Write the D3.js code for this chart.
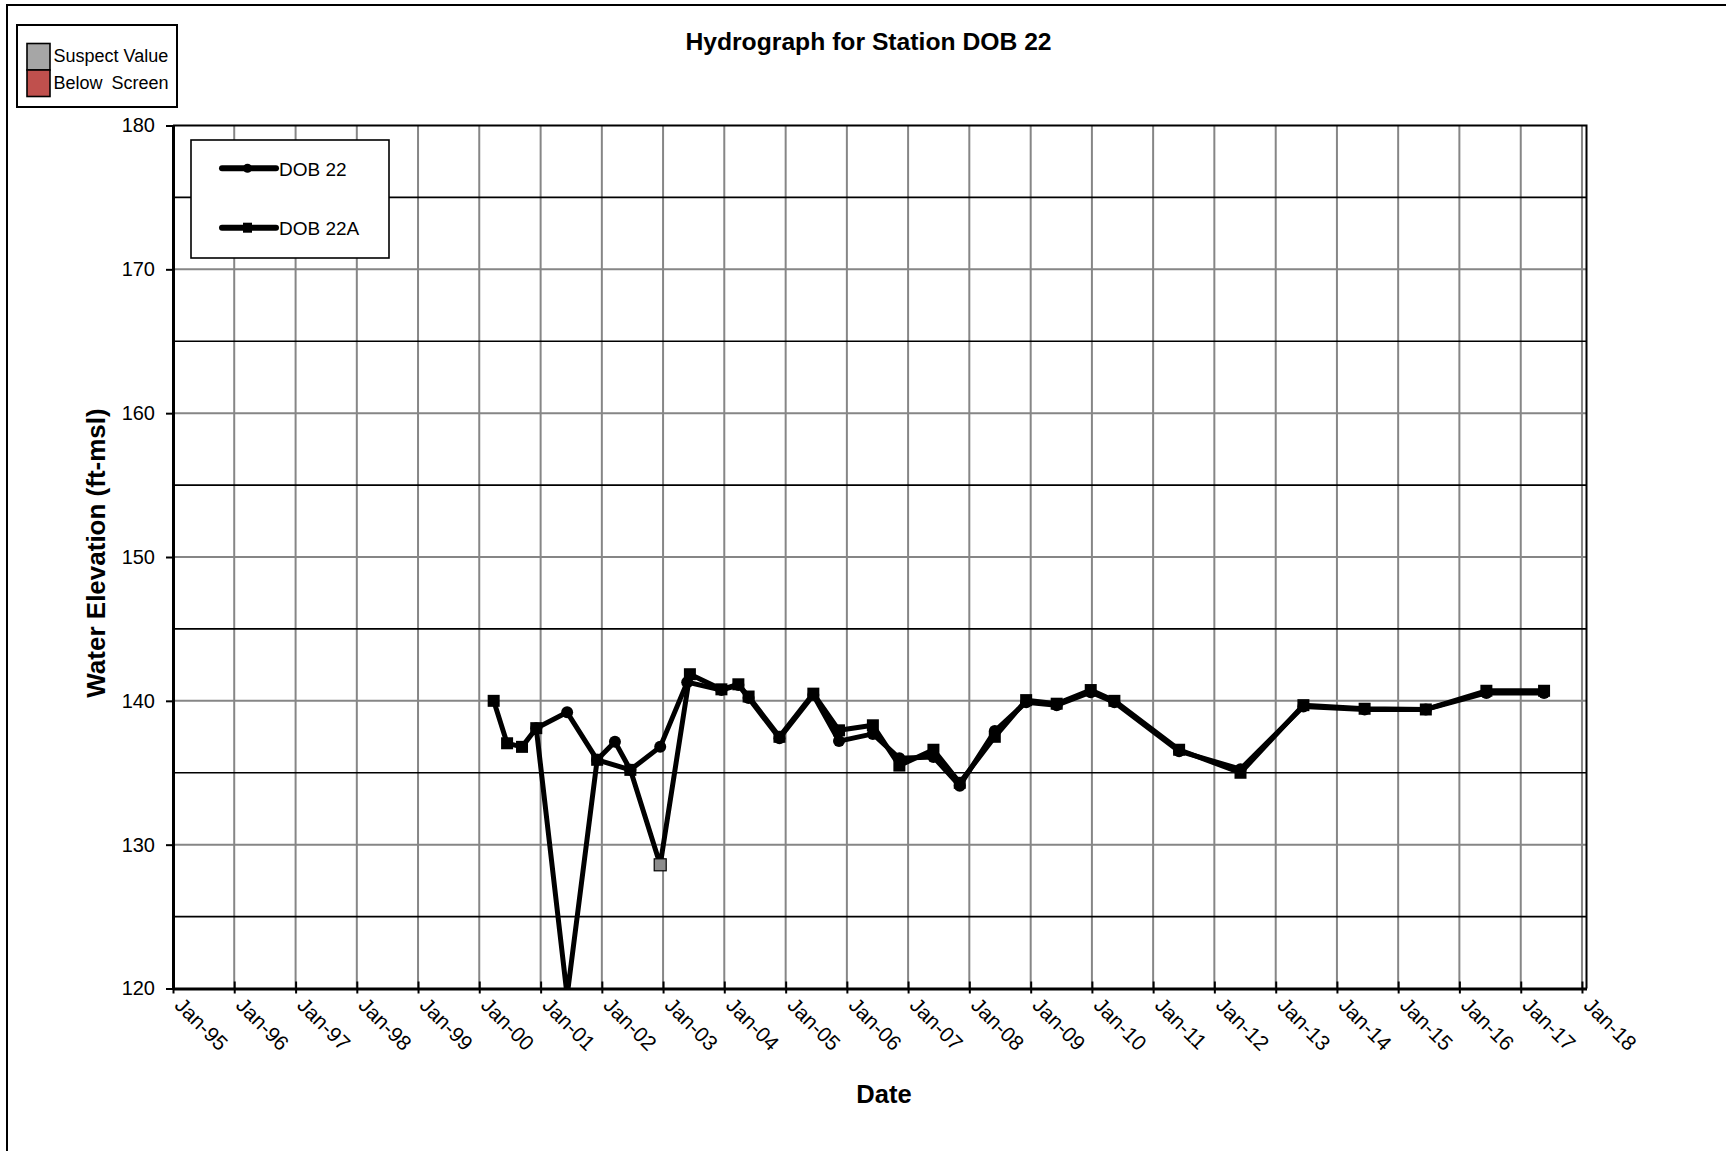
<!DOCTYPE html>
<html><head><meta charset="utf-8">
<script src="https://cdn.jsdelivr.net/npm/d3@7"></script>
<style>
body{margin:0;background:#fff}
svg{display:block}
text{font-family:"Liberation Sans",Arial,Helvetica,sans-serif;fill:#000}
</style>
</head><body>
<svg id="chart" width="1726" height="1151"></svg>
<script>
// ---------- data ----------
const chartTitle = "Hydrograph for Station DOB 22";
const xAxisTitle = "Date";
const yAxisTitle = "Water Elevation (ft-msl)";
const xTickYears = [1995,1996,1997,1998,1999,2000,2001,2002,2003,2004,2005,2006,2007,2008,2009,2010,2011,2012,2013,2014,2015,2016,2017,2018];
const xTickLabels = ["Jan-95","Jan-96","Jan-97","Jan-98","Jan-99","Jan-00","Jan-01","Jan-02","Jan-03","Jan-04","Jan-05","Jan-06","Jan-07","Jan-08","Jan-09","Jan-10","Jan-11","Jan-12","Jan-13","Jan-14","Jan-15","Jan-16","Jan-17","Jan-18"];
const yTickValues = [120,130,140,150,160,170,180];
const yMinorValues = [125,135,145,155,165,175];
const seriesNames = ["DOB 22","DOB 22A"];
const statusLegend = ["Suspect Value","Below Screen"];

// DOB 22 (circle markers)
const dob22Dates = ["2000-12-06","2001-06-08","2001-12-04","2002-03-20","2002-06-20","2002-12-15","2003-05-25","2003-12-15","2004-03-25","2004-05-25","2004-11-25","2005-06-15","2005-11-15","2006-06-05","2006-11-10","2007-06-01","2007-11-05","2008-06-01","2008-12-05","2009-06-05","2009-12-25","2010-05-15","2011-06-05","2012-06-05","2013-06-15","2014-06-15","2015-06-15","2016-06-10","2017-05-20"];
const dob22Values = [138.1,139.2,135.9,137.15,135.2,136.8,141.3,140.75,141.1,140.2,137.4,140.4,137.2,137.7,136.0,136.1,134.1,137.9,139.9,139.7,140.6,139.9,136.5,135.25,139.6,139.4,139.4,140.55,140.55];

// DOB 22A (square markers)
const dob22aDates = ["2000-03-27","2000-06-15","2000-09-12","2000-12-06","2001-06-08","2001-12-04","2002-06-20","2002-12-15","2003-06-10","2003-12-15","2004-03-25","2004-05-25","2004-11-25","2005-06-15","2005-11-15","2006-06-05","2006-11-10","2007-06-01","2007-11-05","2008-06-01","2008-12-05","2009-06-05","2009-12-25","2010-05-15","2011-06-05","2012-06-05","2013-06-15","2014-06-15","2015-06-15","2016-06-10","2017-05-20"];
const dob22aValues = [140.0,137.05,136.8,138.1,119.5,135.9,135.2,128.6,141.85,140.8,141.15,140.3,137.5,140.5,137.95,138.3,135.5,136.6,134.3,137.5,140.05,139.8,140.75,140.0,136.6,135.0,139.7,139.45,139.4,140.7,140.7];
const dob22aSuspect = ["2002-12-15"];

// ---------- layout ----------
const svg = d3.select("#chart");
const parse = d3.timeParse("%Y-%m-%d");
const plot = {left:173, right:1586.5, top:125.5, bottom:988.5};

const x = d3.scaleTime()
  .domain([new Date(1995,0,1), new Date(2018,0,28)])
  .range([plot.left, plot.right]);
const y = d3.scaleLinear().domain([120,180]).range([plot.bottom, plot.top]);

svg.append("defs").append("clipPath").attr("id","plotclip")
  .append("rect").attr("x",plot.left-10).attr("y",plot.top)
  .attr("width",plot.right-plot.left+20).attr("height",plot.bottom-plot.top);

// outer chart border
svg.append("rect").attr("x",7).attr("y",5).attr("width",1800).attr("height",1200)
  .attr("fill","#fff").attr("stroke","#000").attr("stroke-width",2);

// plot background
svg.append("rect").attr("x",plot.left).attr("y",plot.top)
  .attr("width",plot.right-plot.left).attr("height",plot.bottom-plot.top)
  .attr("fill","#fff");

const tickDates = xTickYears.map(yr => new Date(yr,0,1));

// vertical gridlines
svg.append("g").selectAll("line").data(tickDates.slice(1)).join("line")
  .attr("x1",d=>x(d)).attr("x2",d=>x(d))
  .attr("y1",plot.top).attr("y2",plot.bottom)
  .attr("stroke","#868686").attr("stroke-width",2);

// horizontal gridlines: major gray, minor black
svg.append("g").selectAll("line").data(yTickValues.slice(1,-1)).join("line")
  .attr("x1",plot.left).attr("x2",plot.right)
  .attr("y1",d=>y(d)).attr("y2",d=>y(d))
  .attr("stroke","#868686").attr("stroke-width",2);
svg.append("g").selectAll("line").data(yMinorValues).join("line")
  .attr("x1",plot.left).attr("x2",plot.right)
  .attr("y1",d=>y(d)).attr("y2",d=>y(d))
  .attr("stroke","#000").attr("stroke-width",1.6);

// plot border (top/right)
svg.append("path")
  .attr("d",`M${plot.left},${plot.top}H${plot.right}V${plot.bottom}`)
  .attr("fill","none").attr("stroke","#000").attr("stroke-width",2);

// series legend (drawn over gridlines)
const lg = svg.append("g");
lg.append("rect").attr("x",191).attr("y",140).attr("width",198).attr("height",118)
  .attr("fill","#fff").attr("stroke","#000").attr("stroke-width",1.6);
seriesNames.forEach((n,i)=>{
  const ly = 168.3 + i*59.4;
  lg.append("line").attr("x1",222).attr("x2",276).attr("y1",ly).attr("y2",ly)
    .attr("stroke","#000").attr("stroke-width",6).attr("stroke-linecap","round");
  if(i===0) lg.append("circle").attr("cx",247.5).attr("cy",ly).attr("r",4.5).attr("fill","#000");
  else lg.append("rect").attr("x",243).attr("y",ly-5).attr("width",9).attr("height",10).attr("fill","#000");
  lg.append("text").attr("x",279).attr("y",ly+7.2).style("font-size","19px").text(n);
});

// series
const line = d3.line().x(d=>x(d.date)).y(d=>y(d.value));
const s1 = dob22Dates.map((d,i)=>({date:parse(d), value:dob22Values[i]}));
const s2 = dob22aDates.map((d,i)=>({date:parse(d), value:dob22aValues[i], suspect:dob22aSuspect.includes(d)}));
const gs = svg.append("g").attr("clip-path","url(#plotclip)");

gs.append("path").datum(s1).attr("d",line).attr("fill","none")
  .attr("stroke","#000").attr("stroke-width",5).attr("stroke-linejoin","round");
gs.append("g").selectAll("circle").data(s1).join("circle")
  .attr("cx",d=>x(d.date)).attr("cy",d=>y(d.value)).attr("r",6).attr("fill","#000");

gs.append("path").datum(s2).attr("d",line).attr("fill","none")
  .attr("stroke","#000").attr("stroke-width",5).attr("stroke-linejoin","round");
gs.append("g").selectAll("rect").data(s2).join("rect")
  .attr("x",d=>x(d.date)-6).attr("y",d=>y(d.value)-6).attr("width",12).attr("height",12)
  .attr("fill",d=>d.suspect ? "#8c8c8c" : "#000")
  .attr("stroke","#000").attr("stroke-width",d=>d.suspect ? 1.2 : 0);

// x axis
const xAxis = d3.axisBottom(x).tickValues(tickDates)
  .tickFormat((d,i)=>xTickLabels[i]).tickSizeInner(5).tickSizeOuter(0).tickPadding(0);
const gx = svg.append("g").attr("transform",`translate(0,${plot.bottom})`).call(xAxis);
gx.select(".domain").attr("stroke","#000").attr("stroke-width",3);
gx.selectAll(".tick line").attr("stroke","#000").attr("stroke-width",2).attr("y1",-7);
gx.selectAll(".tick text")
  .attr("y",null).attr("dy",null).attr("x",null)
  .attr("text-anchor","start")
  .attr("transform","translate(0,18) rotate(45)")
  .style("font-size","21px")
  .style("font-family","'Liberation Sans',Arial,sans-serif")
  .attr("fill","#000");

// y axis
const yAxis = d3.axisLeft(y).tickValues(yTickValues).tickFormat(d3.format("d"))
  .tickSizeInner(7).tickSizeOuter(0).tickPadding(11);
const gy = svg.append("g").attr("transform",`translate(${plot.left},0)`).call(yAxis);
gy.select(".domain").attr("stroke","#000").attr("stroke-width",3);
gy.selectAll(".tick line").attr("stroke","#000").attr("stroke-width",2);
gy.selectAll(".tick text").style("font-size","20px")
  .style("font-family","'Liberation Sans',Arial,sans-serif").attr("fill","#000");

// titles
svg.append("text").attr("x",868.5).attr("y",49.5).attr("text-anchor","middle")
  .style("font-size","24.7px").style("font-weight","bold").text(chartTitle);
svg.append("text").attr("x",884).attr("y",1103).attr("text-anchor","middle")
  .style("font-size","25.5px").style("font-weight","bold").text(xAxisTitle);
svg.append("text").attr("transform",`translate(105,553) rotate(-90)`).attr("text-anchor","middle")
  .style("font-size","26px").style("font-weight","bold").text(yAxisTitle);

// status legend (top-left)
const sl = svg.append("g");
sl.append("rect").attr("x",17).attr("y",25).attr("width",160).attr("height",82)
  .attr("fill","#fff").attr("stroke","#000").attr("stroke-width",2);
const swColors = ["#a6a6a6","#c0504d"];
statusLegend.forEach((t,i)=>{
  sl.append("rect").attr("x",27).attr("y",43.5+i*26.5).attr("width",23).attr("height",26.5)
    .attr("fill",swColors[i]).attr("stroke","#000").attr("stroke-width",1.6);
  sl.append("text").attr("x",53.5).attr("y",61.5+i*27.5).style("font-size","18px")
    .style("word-spacing", i===1 ? "4px" : "0px").text(t);
});
</script>
</body></html>
